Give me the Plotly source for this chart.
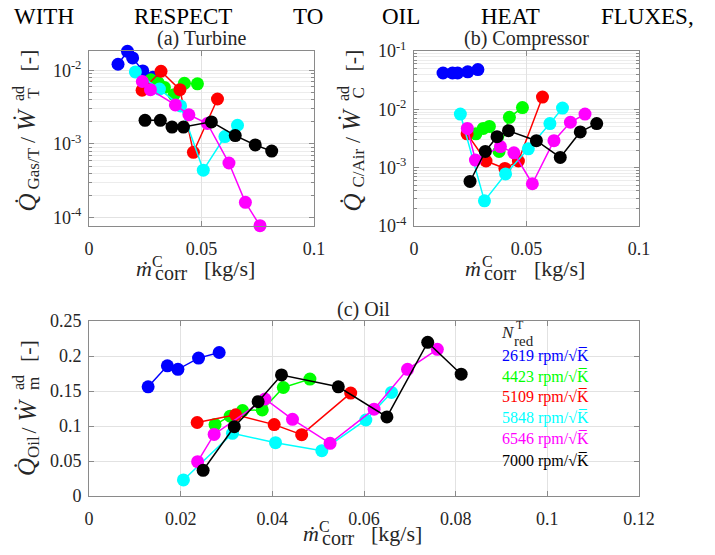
import plotly.graph_objects as go

W, H = 715, 555
FONT = "Liberation Serif, Times New Roman, serif"

# ---------------- data ----------------
speeds = ["2619", "4423", "5109", "5848", "6546", "7000"]
colors = ["#0000ff", "#00ff00", "#ff0000", "#00ffff", "#ff00ff", "#000000"]

# corrected compressor mass flow [kg/s]
x_2619 = [0.0129, 0.0171, 0.0194, 0.0239, 0.0284]
x_4423 = [0.0275, 0.0308, 0.0335, 0.0378, 0.0424, 0.0482]
x_5109 = [0.0236, 0.0320, 0.0404, 0.0464, 0.0571]
x_5848 = [0.0206, 0.0313, 0.0407, 0.0508, 0.0604, 0.0660]
x_6546 = [0.0237, 0.0273, 0.0384, 0.0444, 0.0526, 0.0622, 0.0695, 0.0760]
x_7000 = [0.0249, 0.0317, 0.0369, 0.0420, 0.0544, 0.0650, 0.0739, 0.0812]

# (a) turbine heat flux ratio
turb_2619 = [0.0122, 0.0183, 0.0149, 0.0099, 0.0081]
turb_4423 = [0.0075, 0.0068, 0.0059, 0.0047, 0.0067, 0.0066]
turb_5109 = [0.0054, 0.0098, 0.0055, 0.00077, 0.0041]
turb_5848 = [0.0096, 0.0056, 0.0033, 0.00044, 0.00126, 0.0018]
turb_6546 = [0.0071, 0.0055, 0.0034, 0.0025, 0.0019, 0.00055, 0.00016, 0.000077]
turb_7000 = [0.0021, 0.0021, 0.0017, 0.0017, 0.0020, 0.0013, 0.00097, 0.00080]

# (b) compressor heat flux ratio
comp_2619 = [0.042, 0.042, 0.042, 0.044, 0.048]
comp_4423 = [0.0038, 0.0047, 0.0051, 0.0019, 0.0073, 0.0107]
comp_5109 = [0.0038, 0.0013, 0.00097, 0.0013, 0.0162]
comp_5848 = [0.0083, 0.00027, 0.00078, 0.0021, 0.0057, 0.0105]
comp_6546 = [0.0047, 0.00135, 0.0023, 0.0018, 0.00053, 0.0029, 0.0060, 0.0083]
comp_7000 = [0.00058, 0.0019, 0.0034, 0.0043, 0.0029, 0.0015, 0.0041, 0.0057]

# (c) oil heat flux ratio
oil_2619 = [0.156, 0.186, 0.181, 0.197, 0.205]
oil_4423 = [0.102, 0.114, 0.122, 0.123, 0.155, 0.167]
oil_5109 = [0.105, 0.116, 0.102, 0.0876, 0.147]
oil_5848 = [0.0229, 0.0895, 0.0762, 0.0648, 0.1086, 0.148]
oil_6546 = [0.049, 0.088, 0.1386, 0.1095, 0.0752, 0.124, 0.181, 0.2095]
oil_7000 = [0.0367, 0.099, 0.1348, 0.1729, 0.156, 0.113, 0.2195, 0.174]

xs = [x_2619, x_4423, x_5109, x_5848, x_6546, x_7000]
turb = [turb_2619, turb_4423, turb_5109, turb_5848, turb_6546, turb_7000]
comp = [comp_2619, comp_4423, comp_5109, comp_5848, comp_6546, comp_7000]
oil = [oil_2619, oil_4423, oil_5109, oil_5848, oil_6546, oil_7000]

ab_xticks = [0, 0.05, 0.1]
ab_xticktext = ["0", "0.05", "0.1"]
c_xticks = [0, 0.02, 0.04, 0.06, 0.08, 0.1, 0.12]
c_xticktext = ["0", "0.02", "0.04", "0.06", "0.08", "0.1", "0.12"]
c_yticks = [0, 0.05, 0.1, 0.15, 0.2, 0.25]
c_yticktext = ["0", "0.05", "0.1", "0.15", "0.2", "0.25"]
log_decades = [-4, -3, -2, -1]

# ---------------- figure ----------------
fig = go.Figure()
for i in range(len(speeds)):
    for xa, ya, yy in (("x", "y", turb[i]), ("x2", "y2", comp[i]), ("x3", "y3", oil[i])):
        fig.add_trace(go.Scatter(
            x=xs[i], y=yy, xaxis=xa, yaxis=ya, mode="lines+markers",
            line=dict(color=colors[i], width=1.5),
            marker=dict(size=13, color=colors[i], line=dict(width=0)),
            cliponaxis=False, showlegend=False, hoverinfo="skip"))

LINE = "#8a8a8a"
GRID = "#e2e2e2"
base = dict(showline=True, linecolor=LINE, linewidth=1, mirror="ticks",
            ticks="inside", ticklen=5, tickcolor=LINE, showgrid=True,
            gridcolor=GRID, gridwidth=1, zeroline=False, automargin=False,
            tickfont=dict(family=FONT, size=18, color="#262626"))

def px(x):
    return x / W

def py(y):
    return 1 - y / H

dom_a = [px(89), px(314)]
dom_b = [px(414), px(639)]
dom_c = [px(89), px(639)]
dom_top = [py(226), py(51)]
dom_bot = [py(496), py(321)]

logvals = [10.0 ** d for d in log_decades]
logtext = ["10<sup>%d</sup>" % d for d in log_decades]
minor_vals = [k * 10.0 ** d for d in log_decades[:-1] for k in range(2, 10)]
minor = dict(tickmode="array", tickvals=minor_vals, ticks="inside", ticklen=3,
             tickcolor=LINE, showgrid=True, gridcolor="#ececec")

fig.update_layout(
    template="none",
    width=W, height=H, autosize=False,
    margin=dict(l=0, r=0, t=0, b=0, pad=0, autoexpand=False),
    font=dict(family=FONT, size=16, color="#262626"),
    showlegend=False,
    paper_bgcolor="white", plot_bgcolor="white",
    xaxis=dict(base, domain=dom_a, anchor="y", range=[0, 0.1],
               tickmode="array", tickvals=ab_xticks, ticktext=ab_xticktext,
               ticklabelstandoff=6),
    yaxis=dict(base, domain=dom_top, anchor="x", type="log",
               range=[-4.118, -1.733], tickmode="array", tickvals=logvals,
               ticktext=logtext, minor=minor, ticklabelstandoff=3),
    xaxis2=dict(base, domain=dom_b, anchor="y2", range=[0, 0.1],
                tickmode="array", tickvals=ab_xticks, ticktext=ab_xticktext,
                ticklabelstandoff=6),
    yaxis2=dict(base, domain=dom_top, anchor="x2", type="log",
                range=[-4, -1], tickmode="array", tickvals=logvals,
                ticktext=logtext, minor=minor, ticklabelstandoff=3),
    xaxis3=dict(base, domain=dom_c, anchor="y3", range=[0, 0.12],
                tickmode="array", tickvals=c_xticks, ticktext=c_xticktext,
                ticklabelstandoff=6),
    yaxis3=dict(base, domain=dom_bot, anchor="x3", range=[0, 0.25],
                tickmode="array", tickvals=c_yticks, ticktext=c_yticktext,
                ticklabelstandoff=3),
)

def txt(text, x, y, size, color="#262626", angle=0, xanchor="center"):
    fig.add_annotation(text=text, x=px(x), y=py(y), xref="paper", yref="paper",
                       showarrow=False, textangle=angle, xanchor=xanchor,
                       yanchor="middle", borderpad=0,
                       font=dict(family=FONT, size=size, color=color))

# header words
for word, cx in (("WITH", 43.5), ("RESPECT", 183), ("TO", 308), ("OIL", 401),
                 ("HEAT", 510), ("FLUXES,", 647.5)):
    txt(word, cx, 16, 23, color="#000000")

# subplot titles
txt("(a) Turbine", 201.5, 38.5, 20)
txt("(b) Compressor", 526.5, 38.5, 20)
txt("(c) Oil", 364, 309.5, 20)

# x labels (stacked super/subscript built from pieces)
def xlabel(cx, basey):
    txt("<i>ṁ</i>", cx - 53.5, basey - 7.4, 22)
    txt("C", cx - 39.5, basey - 14.4, 16)
    txt("corr", cx - 26, basey - 2.8, 20)
    txt("[kg/s]", cx + 32.5, basey - 7.4, 22)

xlabel(197, 276)
xlabel(526.5, 276)
xlabel(364, 541)

# y labels (rotated)
SIZES = {"big": 25, "main": 22, "sub": 17, "sup": 16}
OFFS = {"big": -62.4, "main": -61.4, "sub": -56.0, "sup": -70.4}

def ylabel(axx, pieces):
    for text, y, kind in pieces:
        txt(text, axx + OFFS[kind], y, SIZES[kind], angle=-90)

ylabel(89, [("<i>Q̇</i>", 203, "big"), ("Gas/T", 168.5, "sub"), ("/", 139.5, "main"),
            ("<i>Ẇ</i>", 119.5, "big"), ("ad", 93.5, "sup"), ("T", 93.5, "sub"),
            ("[-]", 61, "main")])
ylabel(414, [("<i>Q̇</i>", 203, "big"), ("C/Air", 168.5, "sub"), ("/", 139.5, "main"),
             ("<i>Ẇ</i>", 119.5, "big"), ("ad", 93.5, "sup"), ("C", 93.5, "sub"),
             ("[-]", 61, "main")])
ylabel(89, [("<i>Q̇</i>", 467.5, "big"), ("Oil", 447, "sub"), ("/", 430, "main"),
            ("<i>Ẇ</i>", 410, "big"), ("ad", 382.5, "sup"), ("m", 384, "sub"),
            ("[-]", 351.5, "main")])

# legend (text only, coloured)
txt("<i>N</i>", 508, 332.6, 17)
txt("T", 519.5, 325, 12)
txt("red", 523.5, 341.4, 15)
legend_y = [355.7, 377.3, 397.3, 418.3, 439.3, 460.7]
for s, c, ly in zip(speeds, colors, legend_y):
    txt(s + " rpm/√K̅", 501, ly, 16, color=c, xanchor="left")

fig.write_html("out.html")
